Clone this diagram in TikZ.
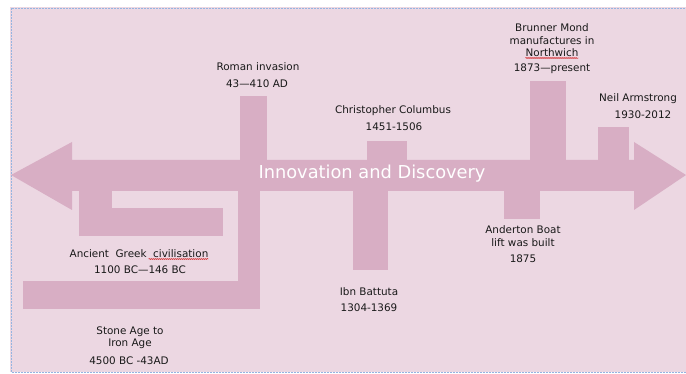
\documentclass[tikz,border=0pt]{standalone}
\usepackage{fontspec}
\setmainfont{DejaVu Sans}
\usetikzlibrary{decorations.pathmorphing}
\definecolor{bgpink}{RGB}{236,215,226}
\definecolor{barpink}{RGB}{216,174,196}
\definecolor{edgeblue}{RGB}{150,180,225}
\begin{document}
\begin{tikzpicture}[x=1pt,y=-1pt,
  lbl/.style={inner sep=0pt, font=\fontsize{10.4}{12}\selectfont, text=black!90},
  bar/.style={fill=barpink, draw=none},
  squig/.style={draw=red!80!black, line width=0.4pt, decorate, decoration={snake, amplitude=0.6pt, segment length=2pt}}]
\useasboundingbox (0,0) rectangle (686,374);
\fill[white] (0,0) rectangle (686,374);
\fill[bgpink] (10,7) rectangle (686,372);
\draw[edgeblue, densely dotted, line width=0.5pt] (686,8) -- (11,8) -- (11,372) -- (686,372);
% main arrow
\fill[barpink] (11,175) -- (72,142) -- (72,160) -- (634,160) -- (634,142) -- (686,175)
  -- (634,210) -- (634,191) -- (72,191) -- (72,210) -- cycle;
% bars above
\fill[barpink] (240,96) rectangle (267,161);   % Roman
\fill[barpink] (367,141) rectangle (407,161);  % Columbus
\fill[barpink] (530,81) rectangle (566,161);   % Brunner Mond
\fill[barpink] (598,127) rectangle (629,161);  % Armstrong
% bars below
\fill[barpink] (79,190) rectangle (112,236);   % Greek vertical
\fill[barpink] (79,208) rectangle (223,236);   % Greek horizontal
\fill[barpink] (238,190) rectangle (260,309);  % Stone age vertical
\fill[barpink] (23,281) rectangle (260,309);   % Stone age horizontal
\fill[barpink] (353,190) rectangle (388,270);  % Ibn Battuta
\fill[barpink] (504,190) rectangle (540,219);  % Anderton
% title
\node[inner sep=0pt, text=white, font=\fontsize{17.8}{20}\selectfont] (title) at (372,174) {Innovation and Discovery};
% labels
\node[lbl] (rom1) at (258,67) {Roman invasion};
\node[lbl] (rom2) at (257,84) {43—410 AD};
\node[lbl] (col1) at (393,111) {Christopher Columbus};
\node[lbl] (col2) at (394,127) {1451-1506};
\node[lbl] (bru1) at (552,28) {Brunner Mond};
\node[lbl] (bru2) at (552,41) {manufactures in};
\node[lbl] (bru3) at (552,53) {Northwich};
\node[lbl] (bru4) at (552,69) {1873—present};
\node[lbl, anchor=west] (nei1) at (599,99) {Neil Armstrong};
\node[lbl] (nei2) at (643,115) {1930-2012};
\node[lbl] (gre1) at (139,254) {Ancient \ Greek \ civilisation};
\node[lbl] (gre2) at (140,270) {1100 BC—146 BC};
\node[lbl] (sto1) at (130,332) {Stone Age to};
\node[lbl] (sto2) at (130,344) {Iron Age};
\node[lbl] (sto3) at (129,361) {4500 BC -43AD};
\node[lbl] (ibn1) at (369,292) {Ibn Battuta};
\node[lbl] (ibn2) at (369,308) {1304-1369};
\node[lbl] (and1) at (523,230) {Anderton Boat};
\node[lbl] (and2) at (523,243) {lift was built};
\node[lbl] (and3) at (523,259) {1875};
% spell-check underlines
\draw[squig] ([yshift=-0.8pt]bru3.south west) -- ([yshift=-0.8pt]bru3.south east);
\draw[squig] ([xshift=-60pt,yshift=-0.8pt]gre1.south east) -- ([yshift=-0.8pt]gre1.south east);
\end{tikzpicture}
\end{document}
